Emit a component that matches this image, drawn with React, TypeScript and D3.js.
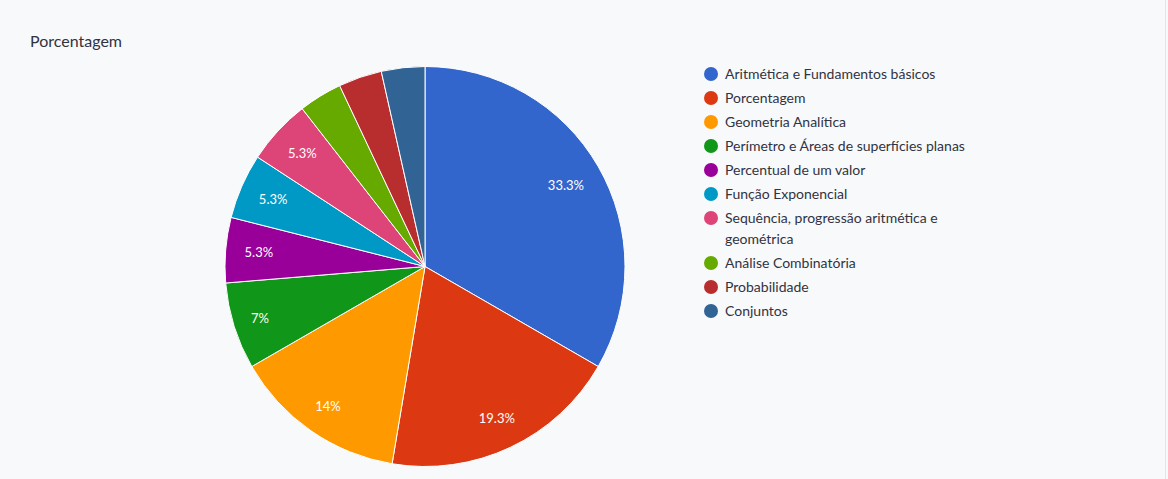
import React from "react";
import * as d3 from "d3";

const categories = [
  "Aritmética e Fundamentos básicos",
  "Porcentagem",
  "Geometria Analítica",
  "Perímetro e Áreas de superfícies planas",
  "Percentual de um valor",
  "Função Exponencial",
  "Sequência, progressão aritmética e geométrica",
  "Análise Combinatória",
  "Probabilidade",
  "Conjuntos",
];
const values = [19, 11, 8, 4, 3, 3, 3, 2, 2, 2];
const legendLines = [
  ["Aritmética e Fundamentos básicos"],
  ["Porcentagem"],
  ["Geometria Analítica"],
  ["Perímetro e Áreas de superfícies planas"],
  ["Percentual de um valor"],
  ["Função Exponencial"],
  ["Sequência, progressão aritmética e", "geométrica"],
  ["Análise Combinatória"],
  ["Probabilidade"],
  ["Conjuntos"],
];
const colors = ["#3366cc", "#dc3912", "#ff9900", "#109618", "#990099", "#0099c6", "#dd4477", "#66aa00", "#b82e2e", "#316395"];
const title = "Porcentagem";

const W = 1168, H = 479;
const cx = 425, cy = 266.5, R = 200;
const font = "Lato, 'Noto Sans', sans-serif";

export default function App() {
  const total = d3.sum(values);
  const pie = d3.pie<number>().sort(null).value((d) => d)(values);
  const arc = d3.arc<d3.PieArcDatum<number>>().innerRadius(0).outerRadius(R);
  const fmt = (v: number) => {
    const p = Math.round((v / total) * 1000) / 10;
    return `${p}%`;
  };
  let y = 74;
  const legendRows = legendLines.map((lines, i) => {
    const row = { lines, y, i };
    y += 24 + 21 * (lines.length - 1);
    return row;
  });
  return (
    <div style={{ position: "absolute", left: 0, top: 0 }}>
      <svg width={W} height={H} style={{ display: "block" }}>
        <rect x={0} y={0} width={W} height={H} fill="#f8f9fb" />
        <rect x={1165} y={0} width={1} height={H} fill="#e3e5e9" />
        <text x={30} y={47} fontFamily={font} fontSize={16} fill="#31333f">{title}</text>
        <g transform={`translate(${cx},${cy})`}>
          {pie.map((d, i) => (
            <path key={i} d={arc(d) || ""} fill={colors[i]} stroke="#ffffff" strokeWidth={1} />
          ))}
          {pie.map((d, i) => {
            if (d.value / total < 0.05) return null;
            const label = fmt(d.value);
            const a = (d.startAngle + d.endAngle) / 2;
            const hw = (label.length * 7.4) / 2;
            const hh = 6.5;
            const proj = hw * Math.abs(Math.sin(a)) + hh * Math.abs(Math.cos(a));
            const dist = R * 0.91 - proj;
            const x = dist * Math.sin(a);
            const yy = -dist * Math.cos(a);
            return (
              <text key={i} x={x} y={yy} dy="0.35em" textAnchor="middle" fontFamily={font} fontSize={13} fill="#ffffff">
                {label}
              </text>
            );
          })}
        </g>
        {legendRows.map((r) => (
          <g key={r.i}>
            <circle cx={711} cy={r.y} r={7} fill={colors[r.i]} />
            <text x={725} y={r.y} fontFamily={font} fontSize={14} fill="#31333f">
              {r.lines.map((l, j) => (
                <tspan key={j} x={725} dy={j === 0 ? "0.35em" : 21}>{l}</tspan>
              ))}
            </text>
          </g>
        ))}
      </svg>
    </div>
  );
}
